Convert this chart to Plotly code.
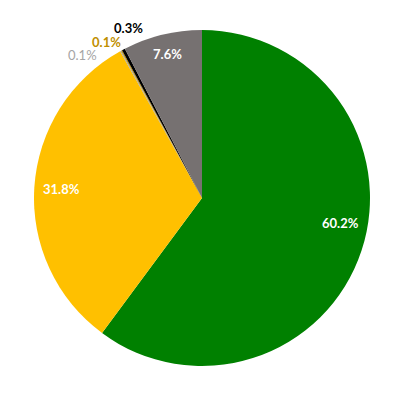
import math
import plotly.graph_objects as go

# slices, clockwise from 12 o'clock
categories = ["A", "B", "C", "D", "E", "F"]
shares = [60.2, 31.8, 0.1, 0.1, 0.3, 7.6]
share_labels = ["60.2%", "31.8%", "0.1%", "0.1%", "0.3%", "7.6%"]

slice_colors = ["#008000", "#FFC000", "#A5A5A5", "#BF8F00", "#000000", "#767171"]
label_colors = ["white", "white", "#A5A5A5", "#BF8F00", "#000000", "white"]
label_weights = ["bold", "bold", "normal", "bold", "bold", "bold"]
# label placement: distance from centre (fraction of radius) and angle nudge (deg)
label_radius = [0.84, 0.84, 1.11, 1.09, 1.10, 0.88]
label_nudge = [-8, 0, -11, -3, 4.5, 0]

fig = go.Figure(go.Pie(
    labels=categories,
    values=shares,
    textinfo="none",
    sort=False,
    direction="clockwise",
    rotation=0,
    marker=dict(colors=slice_colors, line=dict(width=0)),
    domain=dict(x=[0, 1], y=[0, 1]),
    hoverinfo="skip",
))

# put the labels at each slice's mid angle
total = sum(shares)
start = 0.0
for i, v in enumerate(shares):
    mid = (start + v / 2) / total * 360 + label_nudge[i]
    start += v
    a = math.radians(mid)
    fig.add_annotation(
        x=0.5 + 0.5 * label_radius[i] * math.sin(a),
        y=0.5 + 0.5 * label_radius[i] * math.cos(a),
        xref="paper", yref="paper",
        xanchor="center", yanchor="middle",
        text=share_labels[i],
        showarrow=False,
        font=dict(family="Lato", size=13, color=label_colors[i], weight=label_weights[i]),
    )

fig.update_layout(
    width=400,
    height=400,
    margin=dict(l=26, r=38, t=22, b=42),
    showlegend=False,
    paper_bgcolor="white",
    plot_bgcolor="white",
)

fig.write_html("out.html")
